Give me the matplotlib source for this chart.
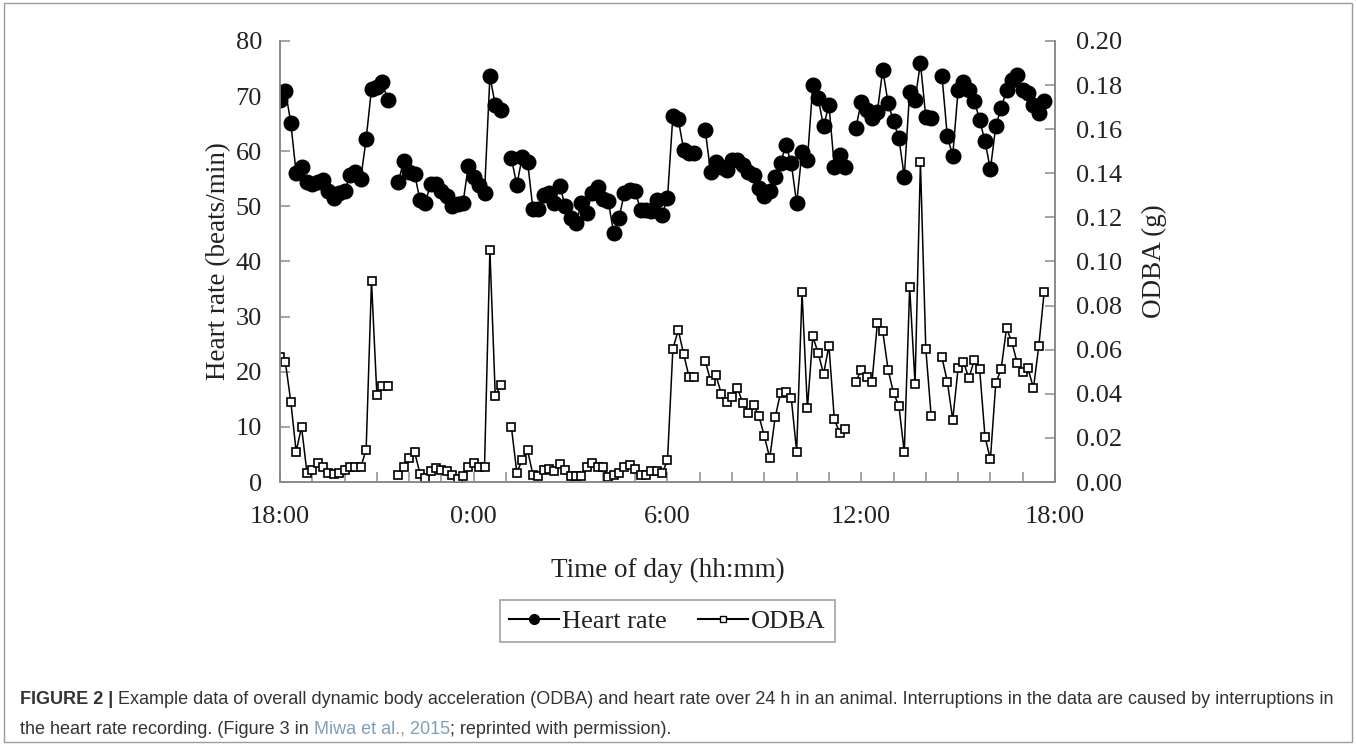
import numpy as np
import matplotlib.pyplot as plt
from matplotlib.patches import Rectangle
from matplotlib.lines import Line2D

# 10-min samples; each bout starts at these minutes after 18:00
bout_start = [0, 220, 430, 790, 1070, 1230]

hr_bouts = [
    [69.3, 71.0, 65.2, 56.0, 57.1, 54.5, 54.1, 54.5, 54.8, 52.7, 51.5, 52.4,
     52.7, 55.6, 56.3, 55.0, 62.2, 71.3, 71.6, 72.5, 69.3],
    [54.5, 58.3, 56.3, 55.9, 51.2, 50.7, 54.1, 54.1, 52.7, 51.8, 50.1, 50.5,
     50.6, 57.4, 55.4, 53.9, 52.4, 73.6, 68.4, 67.5],
    [58.7, 53.9, 58.9, 58.1, 49.5, 49.5, 52.1, 52.4, 50.6, 53.7, 50.0, 47.9,
     46.9, 50.7, 48.8, 52.5, 53.5, 51.3, 50.9, 45.2, 47.9, 52.5, 53.0, 52.7,
     49.4, 49.4, 49.1, 51.2, 48.5, 51.5, 66.4, 65.8, 60.3, 59.7, 59.7],
    [63.9, 56.3, 58.1, 57.2, 56.6, 58.4, 58.4, 57.5, 56.3, 55.7, 53.3, 51.8,
     52.7, 55.4, 57.8, 61.2, 57.8, 50.6, 59.9, 58.4, 72.0, 69.6, 64.5, 68.4,
     57.2, 59.3, 57.2],
    [64.2, 69.0, 67.5, 66.0, 67.2, 74.8, 68.7, 65.4, 62.4, 55.4, 70.8, 69.3,
     76.0, 66.2, 66.0],
    [73.7, 62.7, 59.2, 71.1, 72.6, 71.1, 69.2, 65.7, 61.8, 56.7, 64.6, 67.8,
     71.1, 72.9, 73.9, 71.1, 70.5, 68.4, 66.9, 69.2],
]

odba_bouts = [
    [0.0568, 0.0543, 0.0365, 0.0138, 0.0250, 0.0043, 0.0053, 0.0088, 0.0070,
     0.0040, 0.0038, 0.0043, 0.0055, 0.0068, 0.0070, 0.0068, 0.0145, 0.0910,
     0.0395, 0.0435, 0.0435],
    [0.0033, 0.0070, 0.0108, 0.0138, 0.0038, 0.0018, 0.0048, 0.0063, 0.0053,
     0.0048, 0.0033, 0.0013, 0.0028, 0.0070, 0.0085, 0.0070, 0.0070, 0.1050,
     0.0390, 0.0440],
    [0.0248, 0.0043, 0.0100, 0.0143, 0.0033, 0.0028, 0.0055, 0.0058, 0.0048,
     0.0083, 0.0053, 0.0028, 0.0028, 0.0028, 0.0068, 0.0085, 0.0070, 0.0068,
     0.0025, 0.0033, 0.0043, 0.0068, 0.0078, 0.0058, 0.0033, 0.0033, 0.0048,
     0.0048, 0.0040, 0.0098, 0.0603, 0.0690, 0.0580, 0.0478, 0.0478],
    [0.0550, 0.0460, 0.0485, 0.0400, 0.0365, 0.0385, 0.0425, 0.0358, 0.0315,
     0.0350, 0.0298, 0.0208, 0.0108, 0.0293, 0.0403, 0.0410, 0.0380, 0.0138,
     0.0860, 0.0335, 0.0660, 0.0585, 0.0490, 0.0618, 0.0285, 0.0223, 0.0240],
    [0.0455, 0.0508, 0.0478, 0.0455, 0.0720, 0.0683, 0.0508, 0.0405, 0.0345,
     0.0135, 0.0883, 0.0445, 0.1450, 0.0603, 0.0298],
    [0.0565, 0.0455, 0.0283, 0.0515, 0.0545, 0.0470, 0.0553, 0.0513, 0.0205,
     0.0103, 0.0448, 0.0513, 0.0698, 0.0633, 0.0538, 0.0500, 0.0515, 0.0425,
     0.0618, 0.0863],
]

xtick_labels = ['18:00', '0:00', '6:00', '12:00', '18:00']


def join(bouts):
    # hours after 18:00, NaN between bouts so the line breaks
    xs, ys = [], []
    for start, vals in zip(bout_start, bouts):
        xs += [(start + 10 * i) / 60 for i in range(len(vals))] + [np.nan]
        ys += list(vals) + [np.nan]
    return np.array(xs), np.array(ys)


hr_t, hr = join(hr_bouts)
od_t, od = join(odba_bouts)

serif = 'Liberation Serif'
spine_c = '#8a8a8a'
txt_c = '#222222'

fig = plt.figure(figsize=(13.56, 7.45), dpi=100)
fig.patches.append(Rectangle((0.003, 0.004), 0.994, 0.992, transform=fig.transFigure,
                             fill=False, edgecolor='#9a9a9a', lw=1.0))

ax = fig.add_axes([0.2065, 0.353, 0.5715, 0.592])
ax2 = ax.twinx()

ax2.plot(od_t, od, color='black', lw=1.1, marker='s', ms=6, mfc='white',
         mec='black', mew=1.2, zorder=2)
ax.plot(hr_t, hr, color='black', lw=1.1, marker='o', ms=10.5, mfc='black',
        mec='black', zorder=3)

ax.set_xlim(0, 24)
ax.set_ylim(0, 80)
ax2.set_ylim(0, 0.20)
ax.set_xticks([0, 6, 12, 18, 24])
ax.set_xticklabels(xtick_labels)
ax.set_xticks(np.arange(0, 25, 1), minor=True)
ax.set_yticks(np.arange(0, 81, 10))
ax2.set_yticks(np.arange(0, 0.201, 0.02))
ax2.set_yticklabels(['%.2f' % v for v in np.arange(0, 0.201, 0.02)])

for a in (ax, ax2):
    a.spines['top'].set_visible(False)
    for s in ('left', 'right', 'bottom'):
        a.spines[s].set_color(spine_c)
        a.spines[s].set_linewidth(1.2)
    for lab in a.get_xticklabels() + a.get_yticklabels():
        lab.set_fontfamily(serif)
        lab.set_fontsize(19)
        lab.set_color(txt_c)

ax.tick_params(axis='x', which='both', direction='in', length=7, width=1.1,
               color=spine_c, pad=17)
ax.tick_params(axis='y', direction='in', length=7, width=1.1, color=spine_c, pad=13)
ax2.tick_params(axis='y', direction='in', length=7, width=1.1, color=spine_c, pad=15)

ax.set_xlabel('Time of day (hh:mm)', fontfamily=serif, fontsize=19.5,
              color=txt_c, labelpad=22)
ax.set_ylabel('Heart rate (beats/min)', fontfamily=serif, fontsize=19.5,
              color=txt_c, labelpad=3)
ax2.set_ylabel('ODBA (g)', fontfamily=serif, fontsize=19.5, color=txt_c,
               rotation=90, labelpad=14)

handles = [
    Line2D([], [], color='black', lw=1.5, marker='o', ms=7, mfc='black'),
    Line2D([], [], color='black', lw=1.5, marker='s', ms=4.5, mfc='white', mew=1.0),
]
leg = fig.legend(handles, ['Heart rate', 'ODBA'], loc='center',
                 bbox_to_anchor=(0.492, 0.166), ncol=2, frameon=True, fancybox=False,
                 edgecolor=spine_c, handlelength=1.9, handletextpad=0.1,
                 columnspacing=1.2, borderpad=0.35,
                 prop={'family': serif, 'size': 19})
leg.get_frame().set_linewidth(1.2)
for t in leg.get_texts():
    t.set_color(txt_c)

# caption, built from pieces so the bold label and link colour can differ
cap = 'Liberation Sans'
cap_c = '#333333'
cap_fs = 13.0
t1 = fig.text(0.0148, 0.049, 'FIGURE 2 |', family=cap, fontsize=cap_fs,
              weight='bold', color=cap_c, va='bottom')
ax.annotate(' Example data of overall dynamic body acceleration (ODBA) and heart rate '
            'over 24 h in an animal. Interruptions in the data are caused by '
            'interruptions in', xy=(1, 0), xycoords=t1, va='bottom', ha='left',
            family=cap, fontsize=cap_fs, color=cap_c, annotation_clip=False)
t2 = fig.text(0.0148, 0.0094, 'the heart rate recording. (Figure 3 in ', family=cap,
              fontsize=cap_fs, color=cap_c, va='bottom')
t3 = ax.annotate('Miwa et al., 2015', xy=(1, 0), xycoords=t2, va='bottom', ha='left',
                 family=cap, fontsize=cap_fs, color='#7f9fb8', annotation_clip=False)
ax.annotate('; reprinted with permission).', xy=(1, 0), xycoords=t3, va='bottom',
            ha='left', family=cap, fontsize=cap_fs, color=cap_c, annotation_clip=False)

fig.savefig('out.png', dpi=100)
